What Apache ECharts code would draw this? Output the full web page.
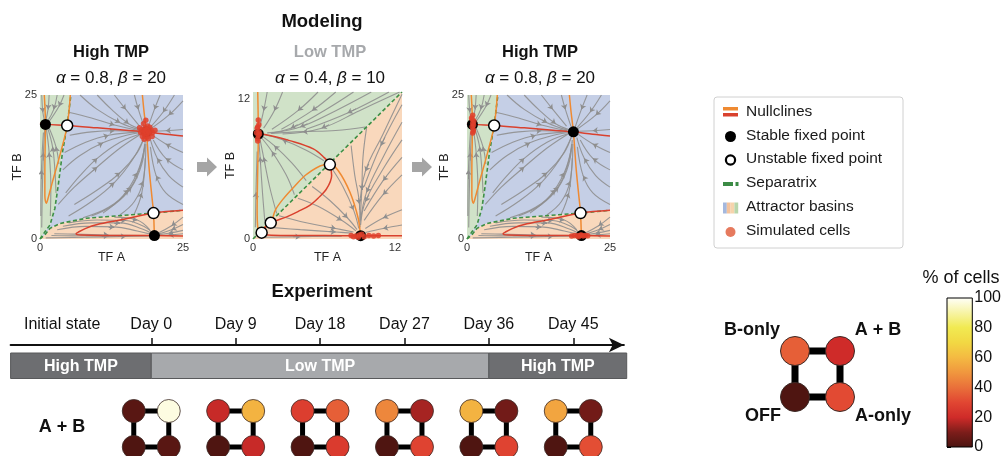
<!DOCTYPE html>
<html><head><meta charset="utf-8">
<script src="https://cdn.jsdelivr.net/npm/echarts@6/dist/echarts.min.js"></script>
<style>html,body{margin:0;padding:0;background:#fff}#c{width:1004px;height:456px}</style>
</head><body><div id="c"></div>
<script>
// ---------------- DATA ----------------
const panelTitles = ['High TMP', 'Low TMP', 'High TMP'];
const panelAlpha = [0.8, 0.4, 0.8];
const panelBeta = [20, 10, 20];
const panelTickMax = [25, 12, 25];

// High TMP phase portrait (alpha 0.8, beta 20) — shared by panels 1 and 3
const sepUpperHigh = [[0,0],[0.9,1.3],[1.75,2.45],[2.6,5.3],[3.2,9.4],[3.95,15.2],[4.75,19.7],[5.4,25]];
const sepLowerHigh = [[0,0],[0.9,0.8],[1.75,1.85],[3.5,2.7],[8.1,3.6],[14,4.05],[19.85,4.5],[25,4.98]];
const redNullHighTop = [[0,20.1],[0.95,19.9],[4.75,19.7],[10,19.3],[15,18.9],[18.6,18.6],[22,18.2],[25,17.9]];
const redNullHighLow = [[25,5.0],[19.85,4.5],[14,3.3],[10,2.5],[8,1.85],[6.7,1.2],[6.3,0.9],[7.2,0.68],[12,0.62],[20,0.6],[25,0.5]];
const orangeNullHighRight = [[17.9,25],[18.2,22],[18.6,18.6],[19.1,12],[19.6,7],[19.85,4.5],[20,0.6],[20.05,0]];
const orangeNullHighLeft = [[5.3,25],[4.75,19.7],[3.6,15],[2.2,10],[1.5,7.4],[1.1,6.2],[0.85,7.5],[0.85,12],[0.95,19.9],[0.75,25]];
const stableHigh = [[0.95,19.9],[18.6,18.6],[20,0.6]];
const unstableHigh = [[4.75,19.7],[19.85,4.5]];
const streamsHigh = [
  [[3.2,6],[6,9],[10,12.5],[14,15.8],[17.6,18.2]],
  [[5,4],[9,6.5],[13,9.8],[16.2,13.8],[18.2,17.6]],
  [[9,4],[13,6],[16,9],[17.8,13],[18.4,17.2]],
  [[14,4.2],[16.5,6.5],[18,10],[18.5,16.5]],
  [[4,12],[7,14.5],[11,16.7],[15.5,18.1],[17.8,18.5]],
  [[5.2,18],[9,18.6],[13,18.8],[17.4,18.7]],
  [[7,25],[10,22.5],[14,20.2],[17.6,18.9]],
  [[13,25],[15,22.5],[17.4,19.6]],
  [[21,25],[20,22.5],[18.9,19.4]],
  [[25,24],[22.5,21.5],[19.3,19.1]],
  [[25,15],[22,16.5],[19.4,18.2]],
  [[25,9],[22.5,11],[20.5,14],[19.2,17.6]],
  [[25,6],[22,8],[20.3,11],[19.3,16]],
  [[4.5,8],[7,11],[10,14],[14,16.8],[17.8,18.3]],
  [[6,6],[10,8.5],[14,11.5],[17,15],[18.3,17.9]],
  [[11,4.5],[14.5,7.5],[17,11.5],[18.3,16]],
  [[4.3,15],[8,16.8],[12,18],[17.3,18.6]],
  [[10,25],[12.5,22.5],[15.5,20],[17.8,19]],
  [[16.5,25],[17.2,22.5],[18.2,19.5]],
  [[25,19],[22,18.8],[19.5,18.7]],
  [[25,12],[22,14],[19.8,17.2]],
  [[23.5,25],[21.5,22],[19.2,19.3]],
  [[16.5,4.4],[17.8,8],[18.4,14]],
  [[7.5,3.7],[12,5.5],[15.5,8.5],[17.5,12.5],[18.3,16.5]],
  [[5,22],[9,21],[13,19.8],[17.5,18.8]],
  [[0.3,2],[0.4,8],[0.6,15],[0.85,19.3]],
  [[1.8,4],[1.9,9],[1.6,15],[1.1,19.2]],
  [[3.3,13],[2.8,16],[1.5,19.5]],
  [[1.6,25],[1.4,22.5],[1,20.5]],
  [[4.2,25],[3.3,23],[1.6,20.4]],
  [[0.15,4],[0.25,12],[0.6,18.5]],
  [[2.8,8],[2.6,12],[2.2,16],[1.3,19.4]],
  [[0.3,25],[0.5,22],[0.8,20.5]],
  [[3,25],[2.4,22.5],[1.3,20.4]],
  [[2.5,0.9],[6,0.85],[12,0.7],[19.3,0.6]],
  [[3,1.6],[8,2.2],[13,2.1],[17,1.4],[19.5,0.8]],
  [[5,2.8],[10,3.3],[15,3.2],[18.5,2],[19.7,1]],
  [[25,3.8],[23,2.3],[20.6,1]],
  [[25,1.5],[22.5,1],[20.5,0.7]],
  [[1,0.2],[8,0.3],[15,0.45],[19.4,0.55]],
  [[2,0.6],[6,0.55],[12,0.55],[19,0.58]],
  [[4,2.2],[9,2.8],[14,2.8],[18,1.7],[19.6,0.9]],
  [[25,2.5],[23,1.6],[20.7,0.85]],
  [[25,0.9],[22.5,0.7],[20.6,0.62]],
  [[13,3.8],[17,3.3],[19.2,1.6]]
];
const cellsHighStart = [[18.2,18.9],[18.6,18.3],[18.9,18.8],[18.0,18.4],[18.4,19.3],[19.1,18.2],[17.8,19.0],[18.7,17.7],[19.4,18.9],[18.3,17.9],[17.6,18.5],[18.8,19.6],[19.7,18.5],[18.1,20.0],[18.5,20.6],[17.9,17.8],[19.2,19.4],[18.4,18.6],[20.1,18.9],[18.9,17.4],[18.6,19.0],[19.0,18.5],[17.4,19.3],[19.6,17.8],[18.2,17.3]];
const cellsHighEnd = [[1,18.4],[1.1,19],[0.9,19.5],[1,20.1],[1.2,20.5],[0.8,21],[1,21.5],[1.1,18.7],[0.9,20.8],[1.15,19.8],[18.3,0.5],[18.8,0.6],[19.3,0.55],[19.8,0.65],[20.3,0.5],[20.7,0.6],[21.1,0.55],[19.5,0.4],[20,0.7]];

// Low TMP phase portrait (alpha 0.4, beta 10)
const sepLow = [[0,0],[12.6,12.6]];
const redNullLow = [[0,9.15],[1.5,8.85],[3.1,8.43],[5.1,7.72],[6.0,7.0],[6.5,6.38],[6.65,5.45],[6.23,4.31],[5.5,3.5],[4.8,2.89],[3.8,2.35],[2.85,1.9],[1.5,1.39],[1.0,0.95],[0.73,0.54],[1.0,0.36],[2.5,0.3],[6,0.29],[9.1,0.28],[12.6,0.27]];
const orangeNullLow = [[9.15,0],[9.1,0.28],[8.9,1.76],[8.2,4.0],[7.2,5.87],[6.5,6.38],[5.94,6.34],[4.54,5.55],[3.5,4.5],[2.56,3.44],[1.9,2.5],[1.5,1.39],[0.95,1.0],[0.73,0.54],[0.4,1.0],[0.35,2.5],[0.4,6],[0.45,9.0],[0.4,12.6]];
const stableLow = [[0.45,9.0],[9.1,0.28]];
const unstableLow = [[6.5,6.38],[1.5,1.39],[0.73,0.54]];
const streamsLow = [
  [[2.5,12.6],[1.8,11],[0.9,9.5]],
  [[5.5,12.6],[3.8,11],[1.6,9.4]],
  [[8.5,12.6],[6,11],[3.2,9.5],[1.2,9.1]],
  [[11.5,12.6],[8,10.8],[4.5,9.4]],
  [[6,6.7],[4.5,7.6],[2.5,8.5],[0.9,8.95]],
  [[3.5,3.8],[2.8,5.5],[1.6,7.5],[0.7,8.7]],
  [[2,2.2],[1.4,4.5],[0.9,7],[0.6,8.5]],
  [[0.2,1],[0.25,4],[0.35,7.5]],
  [[1.2,12.6],[0.9,11],[0.55,9.5]],
  [[7,12.6],[5,11],[2.4,9.4]],
  [[10,12.6],[7,11],[4,9.6],[1.6,9.1]],
  [[12.4,12.6],[9,11],[5.8,9.5],[2.5,9]],
  [[4.5,5],[3.3,6.5],[1.8,8],[0.8,8.8]],
  [[9.5,9.6],[7,9.3],[4.2,9.2],[1.5,9.05]],
  [[1,1.5],[0.8,4],[0.6,7],[0.5,8.4]],
  [[12.6,2.5],[11,1.8],[9.5,0.9]],
  [[12.6,5.5],[11,3.8],[9.4,1.6]],
  [[12.6,8.5],[11,6],[9.5,3.2],[9.1,1.2]],
  [[12.6,11.5],[10.8,8],[9.4,4.5]],
  [[6.7,6],[7.6,4.5],[8.5,2.5],[8.95,0.9]],
  [[3.8,3.5],[5.5,2.8],[7.5,1.6],[8.7,0.7]],
  [[2.2,2],[4.5,1.4],[7,0.9],[8.5,0.6]],
  [[8.3,8],[8.6,5.5],[9,3],[9.05,1]],
  [[1,0.15],[4,0.2],[7.5,0.25]],
  [[12.6,1.2],[11,0.9],[9.5,0.55]],
  [[12.6,7],[11,5],[9.4,2.4]],
  [[12.6,10],[11,7],[9.6,4],[9.1,1.6]],
  [[12.6,12.4],[11,9],[9.5,5.8],[9,2.5]],
  [[5,4.5],[6.5,3.3],[8,1.8],[8.8,0.8]],
  [[9.6,9.5],[9.3,7],[9.2,4.2],[9.05,1.5]],
  [[1.5,1],[4,0.8],[7,0.6],[8.4,0.5]]
];
const cellsLow = [[0.4,8.6],[0.45,8.9],[0.5,9.2],[0.35,9.5],[0.5,9.8],[0.4,8.4],[0.3,9.1],[0.55,9.0],[0.45,10.2],[0.4,9.6],[8.3,0.3],[8.7,0.25],[9.0,0.35],[9.4,0.2],[9.8,0.3],[10.2,0.25],[8.9,0.15],[9.2,0.4],[8.5,0.2],[10.6,0.3]];

// Experiment timeline
const timeLabels = ['Initial state','Day 0','Day 9','Day 18','Day 27','Day 36','Day 45'];
const timeLabelDays = [-9.5, 0, 9, 18, 27, 36, 45];
const tickDays = [0, 9, 18, 27, 36, 45];
const phaseNames = ['High TMP','Low TMP','High TMP'];
const phaseStart = [-15, 0, 36];
const phaseEnd = [0, 36, 50.7];
const sampleDays = [0, 9, 18, 27, 36, 45];
const states = ['B-only','A + B','OFF','A-only'];
const pctBonly = [3, 19, 27, 46, 58, 54];
const pctAB    = [97, 58, 36, 15, 8, 8];
const pctOFF   = [1, 1, 1, 1, 1, 1];
const pctAonly = [3, 19, 26, 29, 29, 32];
const keyPct = [36, 20, 1, 31];   // B-only, A + B, OFF, A-only (key diagram)
const cbarTicks = [0, 20, 40, 60, 80, 100];

// ---------------- STYLE ----------------
const FF = '"Liberation Sans", Arial, Helvetica, sans-serif';
const cmap = ['#4a1410','#7c1d1a','#cf2b29','#e14632','#e9703a','#f0973e','#f4ba42','#f2d843','#f1ea52','#f7f4a6','#fffffa'];
const C = {blue:'#c5cfe6', green:'#d0e2c8', peach:'#f9d8bc', stream:'#8f8f8f', sep:'#3d8f45', orange:'#ef8a32', red:'#d9412e', cell:'#df3f2b'};

const series = [];
function addPanel(g, P) {
  const ax = {xAxisIndex: g, yAxisIndex: g};
  P.basins.forEach(b => series.push({type:'custom', ...ax, z:1, silent:true, data:b.poly,
    renderItem:(params, api) => params.dataIndex === 0 ? {type:'polygon', shape:{points:b.poly.map(p => api.coord(p))}, style:{fill:b.color}} : null}));
  P.streams.forEach(s => series.push({type:'line', ...ax, z:2, data:s, smooth:0.4, symbol:'none', silent:true, lineStyle:{color:C.stream, width:1.1, opacity:0.9}}));
  series.push({type:'lines', coordinateSystem:'cartesian2d', ...ax, z:2, silent:true, symbol:['none','arrow'], symbolSize:5,
    lineStyle:{color:C.stream, width:1, opacity:1},
    data: P.streams.map(s => { const m = Math.max(1, Math.floor(s.length/2)); const a = s[m-1], b = s[m];
      return {coords:[[a[0]+0.8*(b[0]-a[0]), a[1]+0.8*(b[1]-a[1])], b]}; })});
  P.seps.forEach(s => series.push({type:'line', ...ax, z:3, data:s, symbol:'none', silent:true, lineStyle:{color:C.sep, width:1.6, type:[4,2.5]}}));
  P.orange.forEach(s => series.push({type:'line', ...ax, z:4, data:s, smooth:0.35, symbol:'none', silent:true, lineStyle:{color:C.orange, width:1.5}}));
  P.red.forEach(s => series.push({type:'line', ...ax, z:4, data:s, smooth:0.35, symbol:'none', silent:true, lineStyle:{color:C.red, width:1.5}}));
  series.push({type:'scatter', ...ax, z:5, data:P.stable, symbolSize:11, itemStyle:{color:'#000', opacity:1}, silent:true});
  series.push({type:'scatter', ...ax, z:5, data:P.unstable, symbolSize:11, itemStyle:{color:'#fff', borderColor:'#000', borderWidth:1.5, opacity:1}, silent:true});
  series.push({type:'scatter', ...ax, z:6, data:P.cells, symbolSize:5.5, itemStyle:{color:C.cell, opacity:0.85}, silent:true});
}
const highBasins = [
  {poly:[...sepUpperHigh, [0,25]], color:C.green},
  {poly:[...sepUpperHigh, [25,25], ...sepLowerHigh.slice().reverse()], color:C.blue},
  {poly:[...sepLowerHigh, [25,0]], color:C.peach}
];
const highBase = {basins:highBasins, streams:streamsHigh, seps:[sepUpperHigh, sepLowerHigh],
  orange:[orangeNullHighRight, orangeNullHighLeft], red:[redNullHighTop, redNullHighLow], stable:stableHigh, unstable:unstableHigh};
addPanel(0, {...highBase, cells:cellsHighStart});
addPanel(1, {basins:[{poly:[...sepLow,[0,12.6]], color:C.green},{poly:[...sepLow,[12.6,0]], color:C.peach}],
  streams:streamsLow, seps:[sepLow], orange:[orangeNullLow], red:[redNullLow], stable:stableLow, unstable:unstableLow, cells:cellsLow});
addPanel(2, {...highBase, cells:cellsHighEnd});

// timeline (grid 3)
const rowY = 84;
series.push({type:'custom', xAxisIndex:3, yAxisIndex:3, z:3, silent:true,
  data: phaseNames.map((n,i) => [phaseStart[i], phaseEnd[i], i]),
  renderItem:(params, api) => {
    const i = api.value(2); const p0 = api.coord([api.value(0), 0]); const p1 = api.coord([api.value(1), 0]);
    const dark = phaseNames[i] === 'High TMP';
    return {type:'group', children:[
      {type:'rect', shape:{x:p0[0], y:p0[1]+8, width:p1[0]-p0[0], height:25.5}, style:{fill: dark ? '#6d6e71' : '#a7a9ac', stroke:'#58595b', lineWidth:1}},
      {type:'text', style:{text:phaseNames[i], x:(p0[0]+p1[0])/2, y:p0[1]+21.5, align:'center', verticalAlign:'middle', textAlign:'center', textVerticalAlign:'middle', fill:'#fff', font:'bold 16px ' + FF}}
    ]};
  }});
series.push({type:'custom', xAxisIndex:3, yAxisIndex:3, z:3, silent:true, data: sampleDays.map(d => [d, rowY]),
  renderItem:(params, api) => { const c = api.coord([api.value(0), api.value(1)]);
    return {type:'rect', shape:{x:c[0]-17.5, y:c[1]-18, width:35, height:36}, style:{fill:'none', stroke:'#000', lineWidth:5}}; }});
const circleSeriesIdx = [];
const pctByState = [pctBonly, pctAB, pctOFF, pctAonly];
const offsets = [[-17.5,-18],[17.5,-18],[-17.5,18],[17.5,18]];
states.forEach((s, k) => {
  circleSeriesIdx.push(series.length);
  series.push({type:'scatter', name:s, xAxisIndex:3, yAxisIndex:3, z:5, silent:true, symbolSize:23, symbolOffset:offsets[k],
    itemStyle:{borderColor:'#3b2a26', borderWidth:0.8, opacity:1},
    data: sampleDays.map((d, j) => [d, rowY, pctByState[k][j]])});
});
// key diagram (grid 4)
series.push({type:'custom', xAxisIndex:4, yAxisIndex:4, z:3, silent:true, data:[[0,1]],
  renderItem:(params, api) => { const a = api.coord([0,1]), b = api.coord([1,0]);
    return {type:'rect', shape:{x:a[0], y:a[1], width:b[0]-a[0], height:b[1]-a[1]}, style:{fill:'none', stroke:'#000', lineWidth:7}}; }});
circleSeriesIdx.push(series.length);
series.push({type:'scatter', xAxisIndex:4, yAxisIndex:4, z:5, silent:true, symbolSize:29, itemStyle:{borderColor:'#3b2a26', borderWidth:1, opacity:1},
  data: states.map((s, i) => [i % 2, 1 - Math.floor(i / 2), keyPct[i]])});
// colorbar (grid 5)
series.push({type:'custom', xAxisIndex:5, yAxisIndex:5, z:3, silent:true, data:[[0, 0]],
  renderItem:(params, api) => { const a = api.coord([0,100]), b = api.coord([1,0]);
    return {type:'rect', shape:{x:a[0], y:a[1], width:b[0]-a[0], height:b[1]-a[1]},
      style:{fill:new echarts.graphic.LinearGradient(0,1,0,0, cmap.map((c,i)=>({offset:i/(cmap.length-1), color:c}))), stroke:'#000', lineWidth:1}}; }});

// ---------------- AXES ----------------
const hidden = {show:false};
function panelX(g, max, tick) {
  return {gridIndex:g, type:'value', min:0, max:max, interval:tick, axisLine:hidden, axisTick:hidden, splitLine:hidden,
    axisLabel:{fontSize:11, color:'#333', margin:3, formatter: v => (v === 0 || v === tick) ? String(v) : ''},
    name:'TF A', nameLocation:'middle', nameGap:12, nameMoveOverlap:false, nameTextStyle:{fontSize:12.5, color:'#222', fontFamily:FF, verticalAlign:'top'}};
}
function panelY(g, max, tick) {
  return {gridIndex:g, type:'value', min:0, max:max, interval:tick, axisLine:hidden, axisTick:hidden, splitLine:hidden,
    axisLabel:{fontSize:11, color:'#333', margin:3, formatter: v => (v === 0 || v === tick) ? String(v) : ''},
    name:'TF B', nameLocation:'middle', nameGap:16, nameMoveOverlap:false, nameTextStyle:{fontSize:12.5, color:'#222', fontFamily:FF}};
}
const xAxis = [panelX(0,25,panelTickMax[0]), panelX(1,12.6,panelTickMax[1]), panelX(2,25,panelTickMax[2]),
  {gridIndex:3, type:'value', position:'top', min:-15, max:50.4, splitLine:hidden,
   axisLine:{show:true, lineStyle:{color:'#111', width:2}, symbol:['none','arrow'], symbolSize:[11,15]},
   axisTick:{show:true, customValues:tickDays, length:7, lineStyle:{color:'#111', width:1.5}},
   axisLabel:{show:true, customValues:timeLabelDays, margin:12, fontSize:16, color:'#111', formatter: v => { const i = timeLabelDays.indexOf(v); return i >= 0 ? timeLabels[i] : ''; }}},
  {gridIndex:4, type:'value', min:0, max:1, show:false},
  {gridIndex:5, type:'value', min:0, max:1, show:false}];
const yAxis = [panelY(0,25,panelTickMax[0]), panelY(1,12.6,panelTickMax[1]), panelY(2,25,panelTickMax[2]),
  {gridIndex:3, type:'value', min:0, max:100, inverse:true, show:false},
  {gridIndex:4, type:'value', min:0, max:1, show:false},
  {gridIndex:5, type:'value', position:'right', min:0, max:100, interval:20, splitLine:hidden, axisLine:hidden,
   axisTick:{show:true, length:4, lineStyle:{color:'#000'}}, axisLabel:{fontSize:16, color:'#111', margin:2, customValues:cbarTicks}}];

// ---------------- GRAPHIC TEXT / KEYS ----------------
function T(x, y, text, font, fill, align) {
  return {type:'text', x:x, y:y, silent:true, style:{text:text, font:font + ' ' + FF, fill:fill || '#111', align:align || 'center', verticalAlign:'middle', textAlign:align || 'center', textVerticalAlign:'middle'}};
}
const graphic = [
  T(322, 22, 'Modeling', 'bold 18.5px'),
  T(322, 292, 'Experiment', 'bold 18.5px'),
  T(62, 427, 'A + B', 'bold 18px'),
  T(752, 330, 'B-only', 'bold 18px'), T(878, 330, 'A + B', 'bold 18px'),
  T(763, 416, 'OFF', 'bold 18px'), T(883, 416, 'A-only', 'bold 18px'),
  T(961, 278, '% of cells', '18px')
];
const titleX = [111, 330, 540];
panelTitles.forEach((t, i) => {
  graphic.push(T(titleX[i], 52, t, 'bold 16.5px', t === 'Low TMP' ? '#a7a9ac' : '#111'));
  graphic.push({type:'text', x:titleX[i], y:78, silent:true, style:{text:'{i|α} = ' + panelAlpha[i] + ', {i|β} = ' + panelBeta[i],
    font:'17px ' + FF, fill:'#111', align:'center', verticalAlign:'middle', textAlign:'center', textVerticalAlign:'middle',
    rich:{i:{fontStyle:'italic', font:'italic 17px ' + FF, fontSize:17, fontFamily:FF, fill:'#111', color:'#111'}}}});
});
[197, 412].forEach(x0 => graphic.push({type:'polygon', silent:true,
  shape:{points:[[x0,162],[x0+10,162],[x0+10,157.5],[x0+20,167],[x0+10,176.5],[x0+10,172],[x0,172]]}, style:{fill:'#a5a5a5'}}));
// legend box
const LX = 746, rows = [112, 135.5, 159, 183, 207, 231];
const legendTexts = ['Nullclines','Stable fixed point','Unstable fixed point','Separatrix','Attractor basins','Simulated cells'];
graphic.push({type:'rect', silent:true, shape:{x:714, y:97, width:189, height:151, r:3}, style:{fill:'#fff', stroke:'#d0d0d0', lineWidth:1}});
legendTexts.forEach((t, i) => graphic.push(T(LX, rows[i], t, '15.5px', '#1a1a1a', 'left')));
graphic.push({type:'rect', silent:true, shape:{x:723, y:rows[0]-5, width:15, height:3.5}, style:{fill:C.orange}});
graphic.push({type:'rect', silent:true, shape:{x:723, y:rows[0]+1, width:15, height:3.5}, style:{fill:C.red}});
graphic.push({type:'circle', silent:true, shape:{cx:730.5, cy:rows[1]+1, r:5.5}, style:{fill:'#000'}});
graphic.push({type:'circle', silent:true, shape:{cx:730.5, cy:rows[2]+1, r:4.6}, style:{fill:'#fff', stroke:'#000', lineWidth:2.2}});
graphic.push({type:'rect', silent:true, shape:{x:723, y:rows[3]-1, width:10, height:4}, style:{fill:'#3b8b45'}});
graphic.push({type:'rect', silent:true, shape:{x:735.5, y:rows[3]-1, width:3, height:4}, style:{fill:'#3b8b45'}});
['#a4b8de','#f3c29c','#f6d4ac','#b9d6ab'].forEach((c, i) => graphic.push({type:'rect', silent:true, shape:{x:723+i*3.8, y:rows[4]-4.5, width:3.8, height:11}, style:{fill:c}}));
graphic.push({type:'circle', silent:true, shape:{cx:730.5, cy:rows[5]+1, r:5}, style:{fill:'#e67a5e'}});

const option = {
  animation:false,
  textStyle:{fontFamily:FF},
  grid:[
    {left:40, top:95, width:143, height:144},
    {left:253, top:92, width:149, height:147},
    {left:467, top:95, width:143, height:144},
    {left:10.6, top:345, width:613.3, height:100},
    {left:795, top:351, width:45, height:46},
    {left:947, top:298, width:26, height:149}
  ],
  xAxis: xAxis, yAxis: yAxis,
  visualMap:[{type:'continuous', show:false, min:0, max:100, dimension:2, seriesIndex:circleSeriesIdx, inRange:{color:cmap, opacity:1}}],
  graphic: graphic,
  series: series
};
const chart = echarts.init(document.getElementById('c'), null, {renderer:'canvas'});
chart.setOption(option);
</script></body></html>
